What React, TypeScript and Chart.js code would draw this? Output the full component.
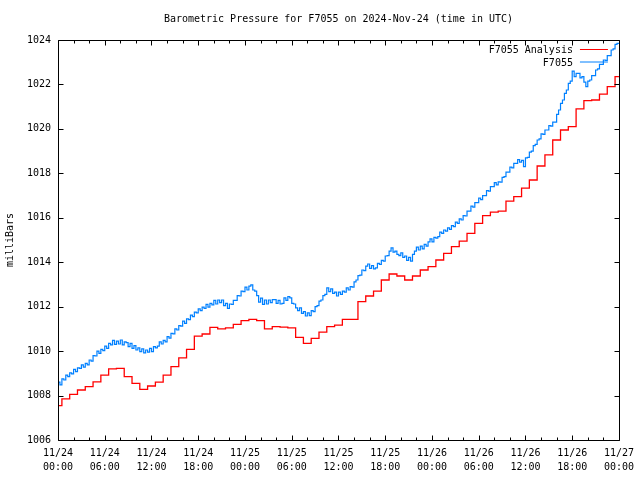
import React, { useEffect, useRef } from "react";
import { Chart, registerables } from "chart.js";

Chart.register(...registerables);

const TITLE = "Barometric Pressure for F7055 on 2024-Nov-24 (time in UTC)";
const Y_TITLE = "milliBars";
const SERIES_NAMES = ["F7055 Analysis", "F7055"];
const SERIES_COLORS = ["#ff0000", "#0080ff"];

const X_TICK_DATES = ["11/24", "11/24", "11/24", "11/24", "11/25", "11/25", "11/25", "11/25", "11/26", "11/26", "11/26", "11/26", "11/27"];
const X_TICK_TIMES = ["00:00", "06:00", "12:00", "18:00", "00:00", "06:00", "12:00", "18:00", "00:00", "06:00", "12:00", "18:00", "00:00"];
const X_HOURS_MAX = 72;
const X_MAJOR_HOURS = 6;
const X_MINOR_HOURS = 2;

const Y_MIN = 1006;
const Y_MAX = 1024;
const Y_STEP = 2;

// hourly analysis values, 11/24 00:00 .. 11/27 00:00
const ANALYSIS_HOURLY = [
  1007.55, 1007.85, 1008.05, 1008.25, 1008.4, 1008.62, 1008.92, 1009.2, 1009.22, 1008.85,
  1008.55, 1008.28, 1008.43, 1008.6, 1008.92, 1009.3, 1009.7, 1010.08, 1010.67, 1010.77,
  1011.07, 1011.0, 1011.05, 1011.2, 1011.37, 1011.43, 1011.37, 1011.0, 1011.1, 1011.08,
  1011.05, 1010.62, 1010.35, 1010.57, 1010.85, 1011.1, 1011.17, 1011.43, 1011.43, 1012.23,
  1012.48, 1012.7, 1013.2, 1013.47, 1013.38, 1013.2, 1013.38, 1013.65, 1013.8, 1014.1,
  1014.4, 1014.7, 1014.95, 1015.3, 1015.75, 1016.1, 1016.25, 1016.3, 1016.75, 1016.95,
  1017.33, 1017.7, 1018.33, 1018.83, 1019.5, 1019.95, 1020.1, 1020.9, 1021.27, 1021.3,
  1021.56, 1021.9, 1022.35, 1022.9,
];

// station observations every 15 minutes
const OBS_MINUTES = 15;
const OBS_DAY1 = [
  1008.42, 1008.6, 1008.48, 1008.75, 1008.7, 1008.92, 1008.85, 1009.02,
  1008.98, 1009.18, 1009.08, 1009.25, 1009.22, 1009.38, 1009.28, 1009.45,
  1009.38, 1009.6, 1009.55, 1009.8, 1009.78, 1010.0, 1009.9, 1010.08,
  1010.02, 1010.22, 1010.12, 1010.35, 1010.28, 1010.48, 1010.3, 1010.45,
  1010.32, 1010.5, 1010.28, 1010.42, 1010.38, 1010.2, 1010.35, 1010.12,
  1010.25, 1010.05, 1010.15, 1009.98, 1010.1, 1009.92, 1010.05, 1009.95,
  1010.12, 1009.98, 1010.2, 1010.15, 1010.22, 1010.42, 1010.32, 1010.48,
  1010.42, 1010.65, 1010.58, 1010.8, 1010.78, 1011.0, 1010.95, 1011.15,
  1011.12, 1011.35, 1011.25, 1011.45, 1011.42, 1011.62, 1011.55, 1011.75,
  1011.72, 1011.9, 1011.82, 1011.98, 1011.92, 1012.1, 1011.98, 1012.15,
  1012.08, 1012.28, 1012.12, 1012.3, 1012.18, 1012.3, 1012.05, 1012.15,
  1011.92, 1012.12, 1012.1, 1012.28, 1012.28, 1012.5, 1012.48, 1012.7,
];
const OBS_DAY2 = [
  1012.68, 1012.88, 1012.75, 1012.92, 1012.98, 1012.75, 1012.7, 1012.5,
  1012.2, 1012.38, 1012.1, 1012.3, 1012.12, 1012.3, 1012.18, 1012.32,
  1012.32, 1012.15, 1012.28, 1012.12, 1012.15, 1012.4, 1012.28, 1012.45,
  1012.4, 1012.15, 1012.12, 1011.95, 1011.82, 1011.95, 1011.7, 1011.78,
  1011.58, 1011.72, 1011.6, 1011.82, 1011.78, 1012.0, 1012.05, 1012.25,
  1012.3, 1012.5, 1012.55, 1012.85, 1012.68, 1012.8, 1012.6, 1012.65,
  1012.48, 1012.65, 1012.55, 1012.7, 1012.65, 1012.85, 1012.75, 1012.9,
  1012.88, 1013.12, 1013.2, 1013.4, 1013.42, 1013.65, 1013.62, 1013.82,
  1013.92, 1013.72, 1013.85, 1013.7, 1013.75, 1013.95, 1013.9, 1014.08,
  1014.05, 1014.28, 1014.3, 1014.5, 1014.65, 1014.45, 1014.5, 1014.35,
  1014.3, 1014.42, 1014.22, 1014.28, 1014.08, 1014.22, 1014.05, 1014.35,
  1014.5, 1014.68, 1014.55, 1014.72, 1014.6, 1014.8, 1014.72, 1014.92,
];
const OBS_DAY3 = [
  1015.05, 1014.92, 1015.12, 1015.08, 1015.15, 1015.35, 1015.3, 1015.45,
  1015.4, 1015.55, 1015.48, 1015.65, 1015.6, 1015.8, 1015.75, 1015.95,
  1015.9, 1016.1, 1016.08, 1016.3, 1016.3, 1016.52, 1016.48, 1016.68,
  1016.68, 1016.88, 1016.82, 1017.0, 1017.0, 1017.22, 1017.2, 1017.4,
  1017.4, 1017.58, 1017.48, 1017.62, 1017.6, 1017.82, 1017.85, 1018.05,
  1018.05, 1018.28, 1018.25, 1018.45, 1018.45, 1018.62, 1018.5, 1018.58,
  1018.3, 1018.7, 1018.72, 1018.95, 1019.0, 1019.25, 1019.3, 1019.5,
  1019.55, 1019.78, 1019.75, 1019.95, 1019.95, 1020.15, 1020.12, 1020.3,
  1020.3, 1020.65, 1020.85, 1021.15, 1021.3, 1021.6, 1021.75, 1022.05,
  1022.15, 1022.6, 1022.35, 1022.5, 1022.5, 1022.3, 1022.35, 1022.1,
  1021.9, 1022.15, 1022.2, 1022.4, 1022.4, 1022.65, 1022.7, 1022.9,
  1022.9, 1023.1, 1023.08, 1023.3, 1023.3, 1023.55, 1023.6, 1023.8,
  1023.85,
];

const FONT_FAMILY = "'DejaVu Sans Mono', 'Liberation Mono', monospace";

const gnuplotFrame = {
  id: "gnuplotFrame",
  afterDraw(chart: any) {
    const { ctx, chartArea: a, scales } = chart;
    const xs = scales.x;
    const ys = scales.y;
    const L = Math.round(a.left) + 0.5;
    const R = Math.round(a.right) + 0.5;
    const T = Math.round(a.top) + 0.5;
    const B = Math.round(a.bottom) + 0.5;
    ctx.save();
    ctx.strokeStyle = "#000";
    ctx.lineWidth = 1;
    const seg = (x1: number, y1: number, x2: number, y2: number) => {
      ctx.beginPath();
      ctx.moveTo(x1, y1);
      ctx.lineTo(x2, y2);
      ctx.stroke();
    };
    ctx.beginPath();
    ctx.rect(L, T, R - L, B - T);
    ctx.stroke();
    xs.ticks.forEach((t: any) => {
      const px = Math.round(xs.getPixelForValue(t.value)) + 0.5;
      const len = t.value % X_MAJOR_HOURS === 0 ? 5 : 3;
      seg(px, B, px, B - len);
      seg(px, T, px, T + len);
    });
    ys.ticks.forEach((t: any) => {
      const py = Math.round(ys.getPixelForValue(t.value)) + 0.5;
      seg(L, py, L + 5, py);
      seg(R, py, R - 5, py);
    });

    ctx.fillStyle = "#000";
    ctx.font = `10px ${FONT_FAMILY}`;
    ctx.textBaseline = "middle";
    ctx.textAlign = "center";
    ctx.fillText(TITLE, (a.left + a.right) / 2, 19);

    ctx.save();
    ctx.translate(10, (a.top + a.bottom) / 2);
    ctx.rotate(-Math.PI / 2);
    ctx.fillText(Y_TITLE, 0, 0);
    ctx.restore();

    // legend
    ctx.textAlign = "right";
    const rows = [49.5, 62];
    chart.data.datasets.forEach((ds: any, i: number) => {
      const y = rows[i];
      ctx.fillStyle = "#000";
      ctx.fillText(ds.label, a.right - 46, y + 1);
      ctx.strokeStyle = ds.borderColor;
      seg(a.right - 39, y, a.right - 11, y);
    });
    ctx.restore();
  },
};

export default function App() {
  const ref = useRef<HTMLCanvasElement | null>(null);

  useEffect(() => {
    if (!ref.current) return;
    const analysis = ANALYSIS_HOURLY.map((v, i) => ({ x: i, y: v }));
    const obsAll = [...OBS_DAY1, ...OBS_DAY2, ...OBS_DAY3];
    const obs = obsAll.map((v, i) => ({ x: (i * OBS_MINUTES) / 60, y: v }));

    const tickFont = { family: FONT_FAMILY, size: 10, lineHeight: 1.4 };

    const chart = new Chart(ref.current, {
      type: "line",
      data: {
        datasets: [
          {
            label: SERIES_NAMES[0],
            data: analysis,
            borderColor: SERIES_COLORS[0],
            backgroundColor: SERIES_COLORS[0],
            borderWidth: 1.3,
            pointRadius: 0,
            stepped: "middle",
          },
          {
            label: SERIES_NAMES[1],
            data: obs,
            borderColor: SERIES_COLORS[1],
            backgroundColor: SERIES_COLORS[1],
            borderWidth: 1.2,
            pointRadius: 0,
            stepped: "after",
          },
        ],
      },
      options: {
        animation: false,
        responsive: false,
        maintainAspectRatio: false,
        devicePixelRatio: 1,
        layout: { padding: { left: 0, right: 19, top: 40, bottom: 0 } },
        plugins: {
          legend: { display: false },
          title: { display: false },
          tooltip: { enabled: false },
        },
        scales: {
          x: {
            type: "linear",
            min: 0,
            max: X_HOURS_MAX,
            grid: { display: false, drawTicks: false },
            border: { display: false },
            afterFit: (s: any) => {
              s.height = 40;
            },
            ticks: {
              stepSize: X_MINOR_HOURS,
              autoSkip: false,
              maxRotation: 0,
              minRotation: 0,
              padding: 6,
              color: "#000",
              font: tickFont,
              callback: (v: any) => {
                const n = Number(v);
                if (n % X_MAJOR_HOURS !== 0) return "";
                const k = n / X_MAJOR_HOURS;
                return [X_TICK_DATES[k], X_TICK_TIMES[k]];
              },
            },
          },
          y: {
            type: "linear",
            min: Y_MIN,
            max: Y_MAX,
            grid: { display: false, drawTicks: false },
            border: { display: false },
            afterFit: (s: any) => {
              s.width = 58;
            },
            ticks: {
              stepSize: Y_STEP,
              padding: 7,
              color: "#000",
              font: { family: FONT_FAMILY, size: 10 },
              callback: (v: any) => String(v),
            },
          },
        },
      },
      plugins: [gnuplotFrame],
    });
    return () => chart.destroy();
  }, []);

  return (
    <div style={{ position: "fixed", left: 0, top: 0, width: 640, height: 480, background: "#fff" }}>
      <canvas ref={ref} width={640} height={480} style={{ display: "block" }} />
    </div>
  );
}
